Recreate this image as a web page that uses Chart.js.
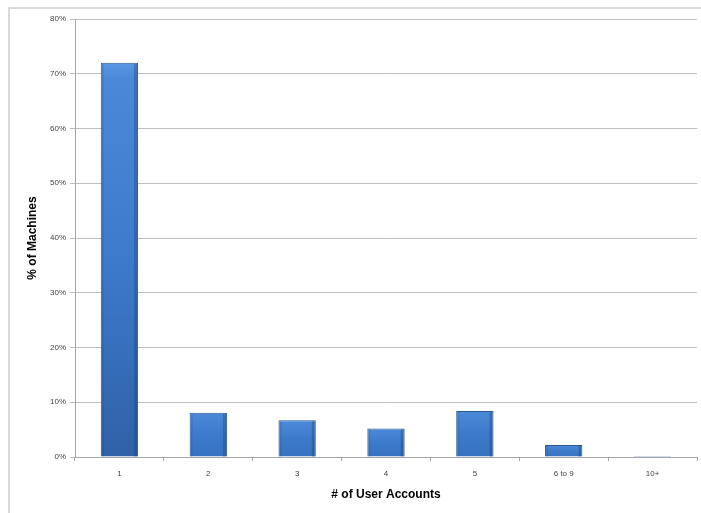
<!DOCTYPE html>
<html>
<head>
<meta charset="utf-8">
<script src="https://cdn.jsdelivr.net/npm/chart.js@4"></script>
<style>
  body { margin: 0; background: #fff; }
  #wrap { position: relative; width: 701px; height: 513px; }
  #frame { position: absolute; left: 8px; top: 7px; right: 0; bottom: 0;
           border-top: 2px solid #d9d9d9; border-left: 2px solid #d9d9d9; }
  canvas { position: absolute; left: 0; top: 0; }
</style>
</head>
<body>
<div id="wrap">
  <div id="frame"></div>
  <canvas id="accountsChart" width="701" height="513"></canvas>
</div>
<script>
// Data
const categories = ['1', '2', '3', '4', '5', '6 to 9', '10+'];
const machinePct = [72, 8.1, 6.7, 5.2, 8.4, 2.2, 0.2];
const yTicks = [0, 10, 20, 30, 40, 50, 60, 70, 80];

// shaded fill, built from the bar element once it has been laid out
function barFill(c) {
    const bar = c.chart.getDatasetMeta(0).data[c.dataIndex];
    if (!bar || !bar.height) return '#3f7cc8';
    const ctx = c.chart.ctx;
    const top = bar.y, bottom = bar.base;
    const g = ctx.createLinearGradient(0, top, 0, bottom);
    g.addColorStop(0, '#5a98e2');
    g.addColorStop(0.04, '#4a89d8');
    g.addColorStop(0.5, '#3d7acb');
    g.addColorStop(1, bottom - top > 100 ? '#2f61a7' : '#3772c0');
    return g;
}

// darker strip at the right edge of each bar, like the Excel bevel
const barEdge = {
    id: 'barEdge',
    afterDatasetsDraw(chart) {
        const ctx = chart.ctx;
        ctx.save();
        chart.getDatasetMeta(0).data.forEach(bar => {
            const half = bar.width / 2;
            const h = bar.base - bar.y;
            if (h < 2) return;
            ctx.fillStyle = 'rgba(30, 60, 110, 0.35)';
            ctx.fillRect(bar.x + half - 4, bar.y + 1, 3, h - 1);
            ctx.fillStyle = 'rgba(30, 60, 110, 0.15)';
            ctx.fillRect(bar.x - half + 1, bar.y + 1, 2, h - 1);
        });
        ctx.restore();
    }
};

const tickFont = { family: 'Liberation Sans', size: 8 };
const titleFont = { family: 'Liberation Sans', size: 12, weight: 'bold' };

const chart = new Chart(document.getElementById('accountsChart').getContext('2d'), {
    type: 'bar',
    data: {
        labels: categories,
        datasets: [{
            data: machinePct,
            backgroundColor: barFill,
            borderColor: '#2a5893',
            borderWidth: 1,
            categoryPercentage: 1,
            barPercentage: 0.42
        }]
    },
    options: {
        responsive: false,
        animation: false,
        layout: { padding: { left: 0, right: 4, top: 19, bottom: 0 } },
        plugins: {
            legend: { display: false },
            tooltip: { enabled: false }
        },
        scales: {
            x: {
                grid: { display: true, drawOnChartArea: false, offset: true, tickLength: 4, color: '#a6a6a6' },
                border: { color: '#a6a6a6' },
                ticks: { font: tickFont, color: '#404040', padding: 8, maxRotation: 0 },
                title: { display: true, text: '# of User Accounts', font: titleFont, color: '#000', padding: { top: 0, bottom: 11 } },
                afterFit(scale) { scale.height = 56; }
            },
            y: {
                min: 0,
                max: 80,
                afterBuildTicks(scale) { scale.ticks = yTicks.map(v => ({ value: v })); },
                grid: { color: '#bdbdbd', tickLength: 5 },
                border: { color: '#a6a6a6' },
                ticks: { font: tickFont, color: '#404040', padding: 4, callback: v => v + '%' },
                title: { display: true, text: '% of Machines', font: titleFont, color: '#000', padding: { top: 25, bottom: 0 } },
                afterFit(scale) { scale.width = 75; }
            }
        }
    },
    plugins: [barEdge]
});
chart.update();
</script>
</body>
</html>
